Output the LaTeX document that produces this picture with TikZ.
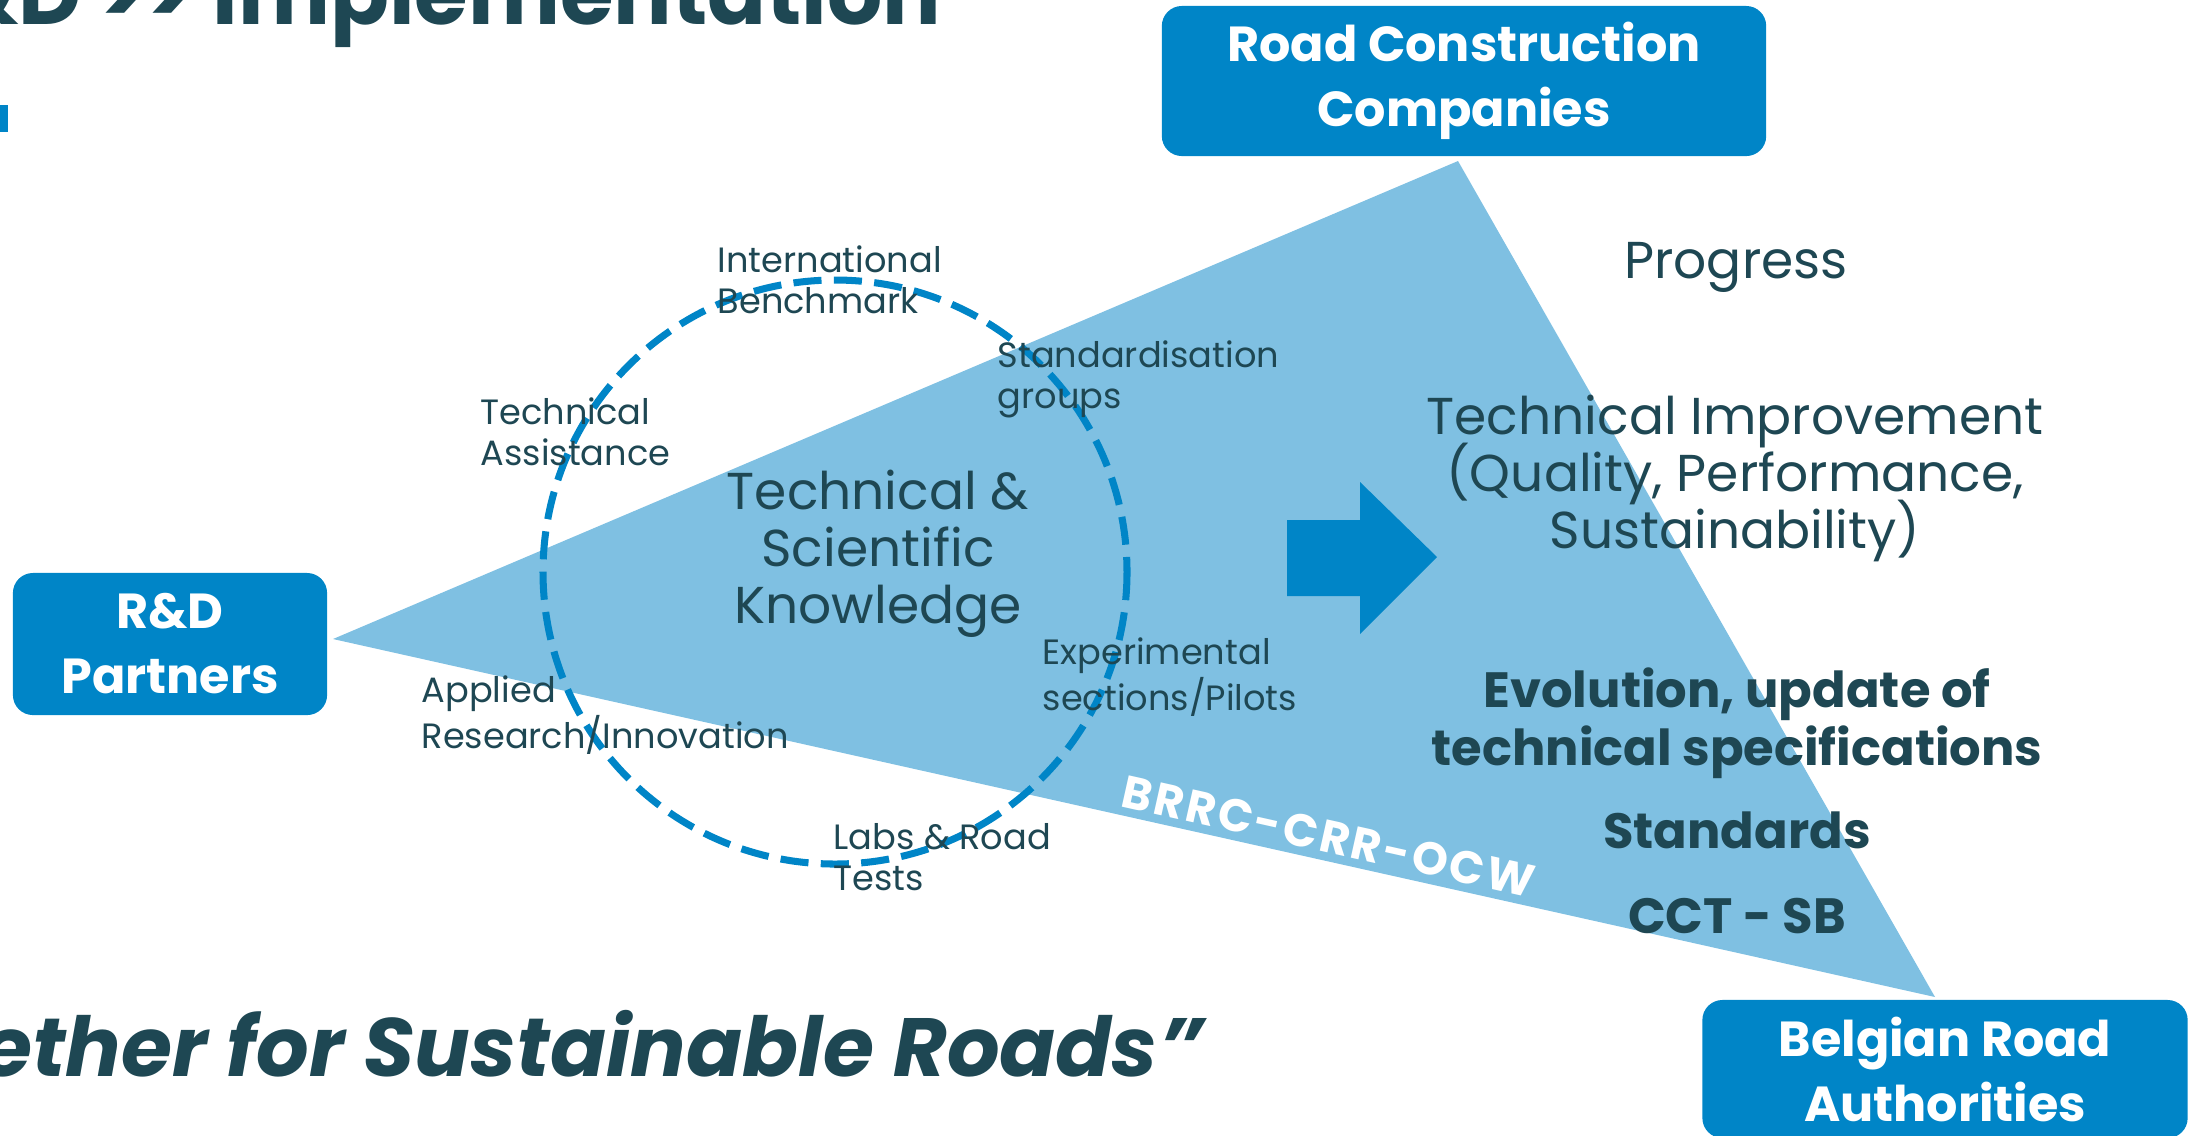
\documentclass[tikz,border=0pt]{standalone}
\usepackage{fontspec}
\setmainfont{Poppins}
\definecolor{brrcblue}{HTML}{0085C7}
\definecolor{wedgeblue}{HTML}{7FC0E2}
\definecolor{darkteal}{HTML}{1E4753}

\begin{document}
\begin{tikzpicture}[x=0.01cm, y=-0.01cm,
    actor/.style={fill=brrcblue, rounded corners=0.2cm, text=white, align=center,
      font=\fontsize{14}{18.5}\selectfont\bfseries},
    bigtext/.style={text=darkteal, align=center, inner sep=0pt, anchor=base,
      font={\fontsize{14.75}{16.2}\selectfont\setlength{\lineskiplimit}{-20pt}}},
    boldtext/.style={text=darkteal, align=center, inner sep=0pt, anchor=base,
      font=\fontsize{14.1}{16.5}\selectfont\bfseries},
    note/.style={text=darkteal, align=left, inner sep=0pt, anchor=base west,
      font=\fontsize{10}{11.4}\selectfont}]
    \useasboundingbox (0,0) rectangle (2192,1135);
    \clip (0,0) rectangle (2192,1135);

    % Title and slogan
    \node[anchor=base east, inner sep=0pt, text=darkteal,
      font=\fontsize{24.7}{29}\selectfont\bfseries] (title) at (942,24) {R\&D >{}> Implementation};
    \fill[brrcblue] (0,105) rectangle (8,132);
    \node[anchor=base east, inner sep=0pt, text=darkteal,
      font=\fontsize{23.5}{28}\selectfont\bfseries\itshape] (slogan) at (1204,1076)
      {“Together for Sustainable Roads”};

    % Wedge between the three partners
    \coordinate (tipL) at (333,639);
    \coordinate (tipT) at (1458,161);
    \coordinate (tipB) at (1935,997);
    \fill[wedgeblue] (tipL) -- (tipT) -- (tipB) -- cycle;
    \node[rotate=-12.6, anchor=base, inner sep=0pt, text=white,
      font=\fontsize{13}{15}\selectfont\bfseries\addfontfeatures{LetterSpace=6}] (brrc) at (1325,852) {BRRC-CRR-OCW};

    % Partners
    \node[actor, minimum width=3.14cm, minimum height=1.42cm] (rd) at (170,644) {R\&D\\Partners};
    \node[actor, minimum width=6.04cm, minimum height=1.50cm] (rcc) at (1464,81) {Road Construction\\Companies};
    \node[actor, minimum width=4.85cm, minimum height=1.38cm] (bra) at (1945,1069) {Belgian Road\\Authorities};

    % Knowledge circle
    \draw[brrcblue, line width=2pt, dash pattern=on 8pt off 3.5pt] (835,572) circle (292);
    \node[bigtext] (know) at (878,623) {Technical \&\\Scientific\\Knowledge};
    \node[note] (bench) at (717,313) {International\\Benchmark};
    \node[note] (stand) at (997,408) {Standardisation\\groups};
    \node[note] (assist) at (480,465) {Technical\\Assistance};
    \node[note] (exper) at (1042,710) {Experimental\\sections/Pilots};
    \node[note] (appl) at (421,748) {Applied\\Research/Innovation};
    \node[note] (labs) at (833,890) {Labs \& Road\\Tests};

    % Block arrow
    \fill[brrcblue] (1287,520) -- (1360,520) -- (1360,482) -- (1437,557)
      -- (1360,634) -- (1360,596) -- (1287,596) -- cycle;

    % Results
    \node[bigtext] (prog) at (1736,278) {Progress};
    \node[bigtext] (impr) at (1735,548) {Technical Improvement\\(Quality, Performance,\\Sustainability)};
    \node[boldtext] (evol) at (1737,765) {Evolution, update of\\technical specifications};
    \node[boldtext] (stds) at (1737,848) {Standards};
    \node[boldtext] (cct) at (1737,933) {CCT - SB};
\end{tikzpicture}
\end{document}
